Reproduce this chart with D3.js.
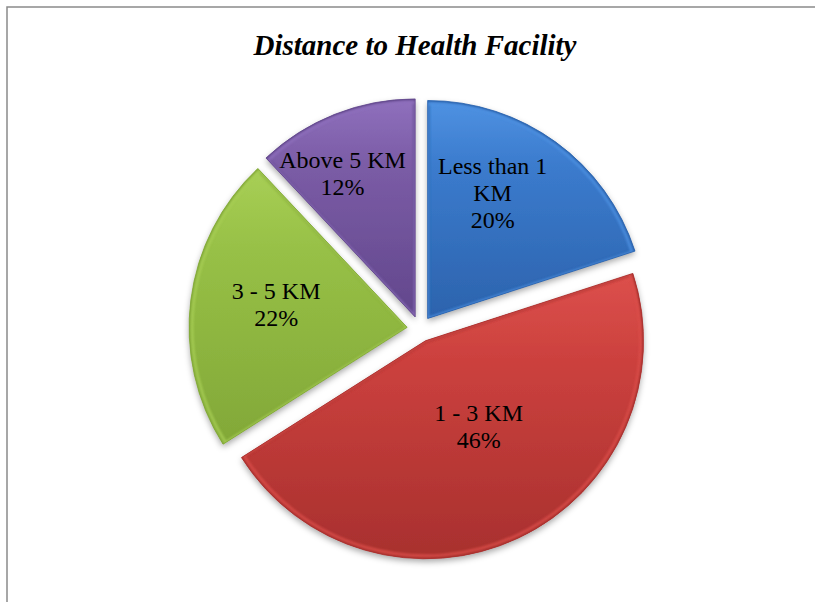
<!DOCTYPE html>
<meta charset="utf-8">
<html>
<style>
  body { margin: 0; background: #fff; }
</style>
<div id="chartContainer">
  <script src="https://d3js.org/d3.v7.min.js"></script>
  <script type="text/javascript">
    // Exploded pie: distance to health facility
    var categories = ["Less than 1 KM", "1 - 3 KM", "3 - 5 KM", "Above 5 KM"];
    var shares = [20, 46, 22, 12];
    var labelLines = [["Less than 1", "KM"], ["1 - 3 KM"], ["3 - 5 KM"], ["Above 5 KM"]];

    var width = 815, height = 602;
    var cx = 420, cy = 329, radius = 218, explode = 13;

    // fill colours per slice: light, base, dark
    var palette = [
      ["#4f92e2", "#3b7bcd", "#2c63ad"],
      ["#dc504c", "#cc413e", "#a8302e"],
      ["#a8cf56", "#97c046", "#82a838"],
      ["#8f70bd", "#7b5ca6", "#62478c"]
    ];
    // label nudges (angle offset in degrees, radius fraction) so the text sits like Excel's
    var labelNudge = [[-8.7, 0.65], [-6.8, 0.46], [2.8, 0.61], [-5.2, 0.74]];

    var svg = d3.select("#chartContainer").append("svg")
      .attr("width", width).attr("height", height);

    var defs = svg.append("defs");
    var shadow = defs.append("filter").attr("id", "shadow")
      .attr("x", "-20%").attr("y", "-20%").attr("width", "140%").attr("height", "140%");
    shadow.append("feDropShadow").attr("dx", 0).attr("dy", 3)
      .attr("stdDeviation", 3).attr("flood-color", "#000").attr("flood-opacity", 0.35);

    var blur = defs.append("filter").attr("id", "bevel");
    blur.append("feGaussianBlur").attr("stdDeviation", 1.3);

    palette.forEach(function (p, i) {
      var g = defs.append("linearGradient").attr("id", "grad" + i)
        .attr("x1", 0).attr("y1", 0).attr("x2", 0).attr("y2", 1);
      g.append("stop").attr("offset", "0%").attr("stop-color", p[0]);
      g.append("stop").attr("offset", "30%").attr("stop-color", p[1]);
      g.append("stop").attr("offset", "100%").attr("stop-color", p[2]);
    });

    // chart frame (runs off the right and bottom of the picture)
    svg.append("rect")
      .attr("x", 7).attr("y", 7).attr("width", 830).attr("height", 640)
      .attr("fill", "none").attr("stroke", "#8a8a8a").attr("stroke-width", 1.5);

    svg.append("text")
      .attr("x", 415).attr("y", 55)
      .attr("text-anchor", "middle")
      .style("font-family", "'Liberation Serif', 'Times New Roman', serif")
      .style("font-size", "29px")
      .style("font-weight", "bold")
      .style("font-style", "italic")
      .text("Distance to Health Facility");

    var data = categories.map(function (c, i) { return { name: c, value: shares[i], idx: i }; });
    var pie = d3.pie().sort(null).value(function (d) { return d.value; });
    var arcs = pie(data);
    var arc = d3.arc().innerRadius(0).outerRadius(radius);
    var arcInner = d3.arc().innerRadius(0).outerRadius(radius - 3);

    var slices = svg.append("g").attr("transform", "translate(" + cx + "," + cy + ")")
      .selectAll("g.slice").data(arcs).enter().append("g")
      .attr("class", "slice")
      .attr("transform", function (d) {
        var mid = (d.startAngle + d.endAngle) / 2;
        return "translate(" + (explode * Math.sin(mid)) + "," + (-explode * Math.cos(mid)) + ")";
      });

    slices.each(function (d, i) {
      var g = d3.select(this);
      var clipId = "clip" + i;
      defs.append("clipPath").attr("id", clipId).append("path").attr("d", arc(d));

      g.append("path")
        .attr("d", arc(d))
        .attr("fill", "url(#grad" + i + ")")
        .attr("filter", "url(#shadow)");

      // soft bevel: dark edge, light rim just inside
      var rim = g.append("g").attr("clip-path", "url(#" + clipId + ")");
      rim.append("path")
        .attr("d", arc(d))
        .attr("fill", "none")
        .attr("stroke", palette[i][2])
        .attr("stroke-width", 4)
        .attr("stroke-linejoin", "round")
        .attr("filter", "url(#bevel)");
      rim.append("path")
        .attr("d", arcInner(d))
        .attr("fill", "none")
        .attr("stroke", palette[i][0])
        .attr("stroke-width", 3)
        .attr("opacity", 0.8)
        .attr("filter", "url(#bevel)");

      g.append("path")
        .attr("d", arc(d))
        .attr("fill", "none")
        .attr("stroke", palette[i][2])
        .attr("stroke-width", 0.8);

      // label
      var mid = (d.startAngle + d.endAngle) / 2 + labelNudge[i][0] * Math.PI / 180;
      var r = labelNudge[i][1] * radius;
      var lx = r * Math.sin(mid), ly = -r * Math.cos(mid);
      var lines = labelLines[i].concat([d.data.value + "%"]);
      var lineH = 27, capH = 16.5;
      var firstBase = ly - (capH + (lines.length - 1) * lineH) / 2 + capH;
      var t = g.append("text")
        .attr("text-anchor", "middle")
        .style("font-family", "'Liberation Serif', 'Times New Roman', serif")
        .style("font-size", "24px")
        .attr("fill", "#000");
      lines.forEach(function (ln, k) {
        t.append("tspan").attr("x", lx).attr("y", firstBase + k * lineH).text(ln);
      });
    });
  </script>
</div>
</html>
